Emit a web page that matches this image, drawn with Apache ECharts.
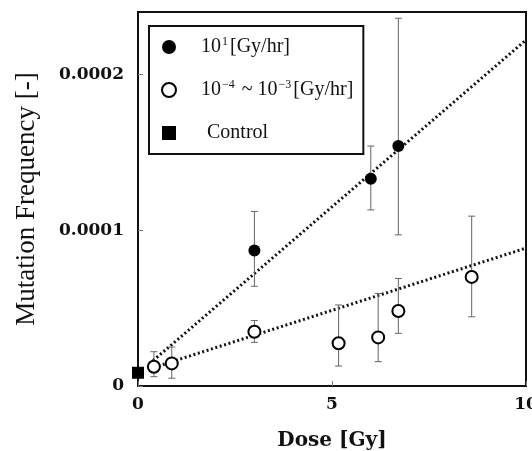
<!DOCTYPE html>
<html>
<head>
<meta charset="utf-8">
<script src="https://cdn.jsdelivr.net/npm/echarts@6/dist/echarts.min.js"></script>
<style>html,body{margin:0;padding:0;background:#fff}#c{width:532px;height:451px}</style>
</head>
<body>
<div id="c"></div>
<script>
// ---- data ----
const highX  = [3.0, 6.0, 6.71];
const highY  = [0.87e-4, 1.33e-4, 1.54e-4];
const highLo = [0.64e-4, 1.13e-4, 0.97e-4];
const highHi = [1.12e-4, 1.54e-4, 2.36e-4];

const lowX  = [0.41, 0.87, 3.0, 5.17, 6.19, 6.71, 8.6];
const lowY  = [0.124e-4, 0.145e-4, 0.348e-4, 0.274e-4, 0.312e-4, 0.481e-4, 0.70e-4];
const lowLo = [0.06e-4, 0.05e-4, 0.28e-4, 0.128e-4, 0.156e-4, 0.338e-4, 0.444e-4];
const lowHi = [0.22e-4, 0.25e-4, 0.42e-4, 0.52e-4, 0.594e-4, 0.69e-4, 1.09e-4];

const controlX = [0];
const controlY = [0.085e-4];

const highFitX = [0.3, 10];
const highFitY = [0.144e-4, 2.22e-4];
const lowFitX  = [0.3, 10];
const lowFitY  = [0.11e-4, 0.885e-4];

const xTicks = [0, 5, 10];
const yTickValues = [0, 0.0001, 0.0002];
const yTickLabels = ['0', '0.0001', '0.0002'];

const seriesNames = ['high', 'low', 'Control'];

// ---- build ----
const zip = (a, b) => a.map((v, i) => [v, b[i]]);
const errData = (x, lo, hi) => x.map((v, i) => [v, lo[i], hi[i]]);

function errRender(params, api) {
  const x = api.value(0);
  const lo = api.coord([x, api.value(1)]);
  const hi = api.coord([x, api.value(2)]);
  const w = 3.5;
  const style = { stroke: '#666', lineWidth: 1 };
  return {
    type: 'group',
    children: [
      { type: 'line', shape: { x1: lo[0], y1: lo[1], x2: hi[0], y2: hi[1] }, style },
      { type: 'line', shape: { x1: hi[0] - w, y1: hi[1], x2: hi[0] + w, y2: hi[1] }, style },
      { type: 'line', shape: { x1: lo[0] - w, y1: lo[1], x2: lo[0] + w, y2: lo[1] }, style }
    ]
  };
}

const chart = echarts.init(document.getElementById('c'), null, { renderer: 'canvas' });
const serif = 'Liberation Serif';
const tickFont = { fontFamily: 'DejaVu Serif', fontWeight: 'bold', fontSize: 17, color: '#111' };

chart.setOption({
  backgroundColor: '#fff',
  animation: false,
  grid: { left: 138, right: 6, top: 12, bottom: 65, show: true, borderColor: '#111', borderWidth: 2,
          containLabel: false, outerBoundsMode: 'none' },
  legend: {
    orient: 'vertical',
    left: 149, top: 26,
    padding: [10, 10, 10, 12],
    itemGap: 21,
    itemWidth: 14, itemHeight: 14,
    borderColor: '#111', borderWidth: 2,
    backgroundColor: '#fff',
    data: seriesNames,
    formatter: function (n) {
      if (n === seriesNames[0]) return '{t|10}{sup|1}{t|[Gy/hr]}';
      if (n === seriesNames[1]) return '{t|10}{sup|−4}{t| ~ 10}{sup|−3}{t|[Gy/hr]}';
      return '{ind|Control}';
    },
    textStyle: {
      fontFamily: serif, fontSize: 20, color: '#111', lineHeight: 22, padding: [0, 0, 0, 20],
      rich: {
        t: { fontFamily: serif, fontSize: 20, color: '#111', lineHeight: 22 },
        sup: { fontFamily: serif, fontSize: 12, color: '#111', verticalAlign: 'top', lineHeight: 22, padding: [0, 2, 0, 1] },
        ind: { fontFamily: serif, fontSize: 20, color: '#111', lineHeight: 22, padding: [0, 0, 0, 6] }
      }
    }
  },
  xAxis: {
    type: 'value', min: 0, max: 10, interval: 5,
    name: 'Dose [Gy]', nameLocation: 'middle', nameGap: 45,
    nameTextStyle: { fontFamily: 'DejaVu Serif', fontWeight: 'bold', fontSize: 20, color: '#111' },
    axisLine: { show: true, lineStyle: { color: '#111', width: 2 } },
    axisTick: { show: true, inside: true, length: 5, lineStyle: { color: '#777', width: 1 } },
    axisLabel: Object.assign({ margin: 10, formatter: v => xTicks.includes(v) ? String(v) : '' }, tickFont),
    splitLine: { show: false }
  },
  yAxis: {
    type: 'value', min: 0, max: 0.00024, interval: 0.0001,
    name: 'Mutation Frequency [-]', nameLocation: 'middle', nameGap: 98,
    nameTextStyle: { fontFamily: serif, fontSize: 27, color: '#111' },
    axisLine: { show: true, lineStyle: { color: '#111', width: 2 } },
    axisTick: { show: true, inside: true, length: 5, lineStyle: { color: '#777', width: 1 } },
    axisLabel: Object.assign({
      margin: 14, showMaxLabel: false,
      formatter: (v) => {
        const i = yTickValues.findIndex(t => Math.abs(t - v) < 1e-9);
        return i >= 0 ? yTickLabels[i] : '';
      }
    }, tickFont),
    splitLine: { show: false }
  },
  series: [
    { type: 'line', data: zip(highFitX, highFitY), symbol: 'none', silent: true, z: 2,
      lineStyle: { color: '#111', width: 3, type: [2, 2.6] } },
    { type: 'line', data: zip(lowFitX, lowFitY), symbol: 'none', silent: true, z: 2,
      lineStyle: { color: '#111', width: 3, type: [2, 2.6] } },
    { type: 'custom', renderItem: errRender, data: errData(highX, highLo, highHi), z: 3, silent: true },
    { type: 'custom', renderItem: errRender, data: errData(lowX, lowLo, lowHi), z: 3, silent: true },
    { name: seriesNames[0], type: 'scatter', data: zip(highX, highY), symbol: 'circle', symbolSize: 12, z: 5,
      itemStyle: { color: '#000', opacity: 1 } },
    { name: seriesNames[1], type: 'scatter', data: zip(lowX, lowY), symbol: 'circle', symbolSize: 12, z: 5,
      itemStyle: { color: '#fff', borderColor: '#000', borderWidth: 2, opacity: 1 } },
    { name: seriesNames[2], type: 'scatter', data: zip(controlX, controlY), symbol: 'rect', symbolSize: 12, z: 6, clip: false,
      itemStyle: { color: '#000', opacity: 1 } }
  ]
});
</script>
</body>
</html>
